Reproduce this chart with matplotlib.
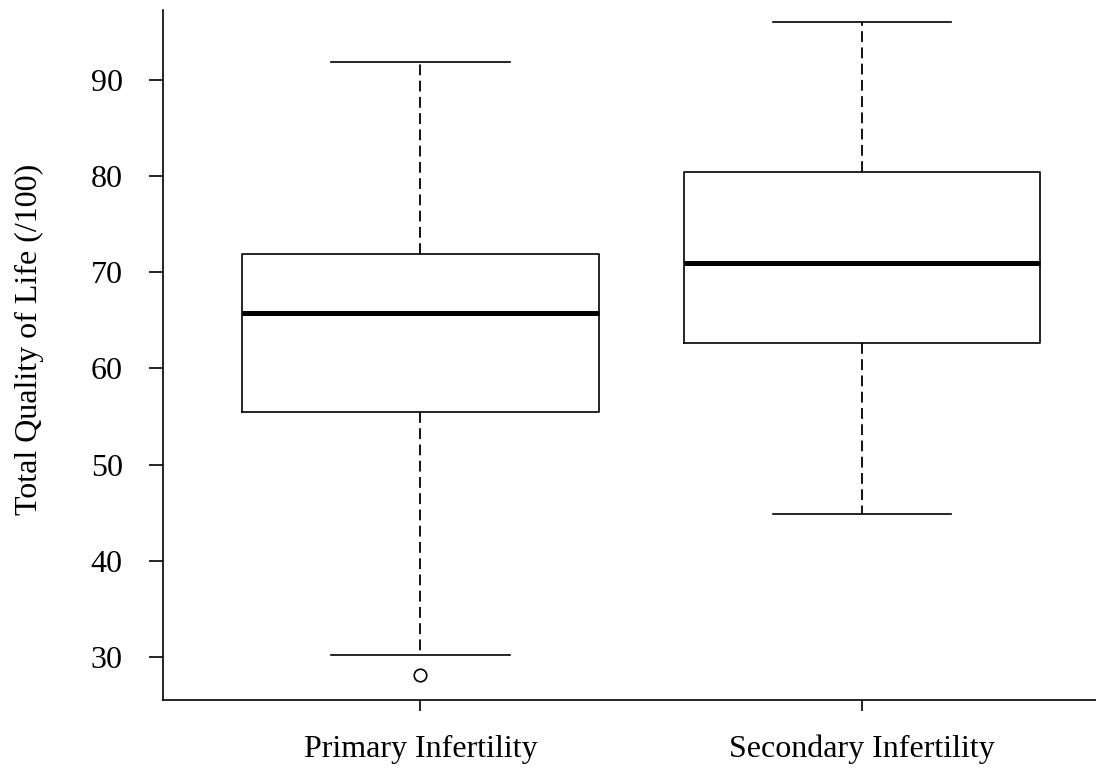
import matplotlib
matplotlib.use('Agg')
import matplotlib.pyplot as plt

groups    = ['Primary Infertility', 'Secondary Infertility']
whislo    = [30.2, 44.9]
q1        = [55.5, 62.6]
medians   = [65.8, 71.0]
q3        = [71.9, 80.4]
whishi    = [91.9, 96.1]
outliers  = [[28.1], []]
yticks    = [30, 40, 50, 60, 70, 80, 90]

plt.rcParams['font.family'] = ['Liberation Serif', 'DejaVu Serif']

fig = plt.figure(figsize=(10.96, 7.71), dpi=100)
ax = fig.add_axes([163/1096, 1 - 700/771, 1 - 163/1096, 690/771])

stats = []
for i, name in enumerate(groups):
    stats.append({'label': name, 'whislo': whislo[i], 'q1': q1[i], 'med': medians[i],
                  'q3': q3[i], 'whishi': whishi[i], 'fliers': outliers[i]})

ax.bxp(stats, positions=[1, 2], widths=0.807, showfliers=True,
       boxprops=dict(color='black', linewidth=1.2),
       medianprops=dict(color='black', linewidth=3.6, solid_capstyle='butt'),
       whiskerprops=dict(color='black', linewidth=1.3, linestyle=(0, (6, 3))),
       capprops=dict(color='black', linewidth=1.2),
       capwidths=0.404,
       flierprops=dict(marker='o', markerfacecolor='white', markeredgecolor='black',
                       markersize=9, markeredgewidth=1.2))

ax.set_xlim(0.417, 2.53)
ax.set_ylim(25.5, 97.3)
ax.set_yticks(yticks)
ax.set_xticks([1, 2])
ax.set_xticklabels(groups)

for s in ['top', 'right']:
    ax.spines[s].set_visible(False)
for s in ['left', 'bottom']:
    ax.spines[s].set_linewidth(1.2)

ax.tick_params(axis='y', length=10, width=1.2, pad=19, labelsize=23)
ax.tick_params(axis='x', length=8, width=1.2, pad=17, labelsize=23)
ax.set_ylabel('Total Quality of Life (/100)', fontsize=23)
ax.yaxis.set_label_coords(-0.1275, 0.523)

fig.savefig('out.png', dpi=100)
